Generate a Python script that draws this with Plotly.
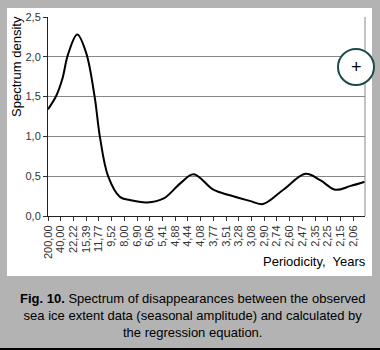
import plotly.graph_objects as go

# x positions are category indices (1 = "200,00", step 4 per labelled period)
pos = [1, 3.6, 5.5, 7.3, 10.2, 13, 15.7, 17.3, 19.9, 23.6, 26.7, 32.2, 37.4,
       42.6, 46.8, 53, 58.2, 64.4, 68.6, 75, 82, 86.6, 91.4, 96, 100.6]
density = [1.34, 1.51, 1.72, 2.03, 2.28, 2.05, 1.49, 1.0, 0.5, 0.24, 0.2, 0.17, 0.22,
           0.41, 0.525, 0.33, 0.26, 0.19, 0.15, 0.33, 0.53, 0.45, 0.33, 0.375, 0.43]

tick_pos = [1 + 4 * i for i in range(25)]
tick_labels = ["200,00", "40,00", "22,22", "15,39", "11,77", "9,52", "8,00", "6,90",
               "6,06", "5,41", "4,88", "4,44", "4,08", "3,77", "3,51", "3,28", "3,08",
               "2,90", "2,74", "2,60", "2,47", "2,35", "2,25", "2,15", "2,06"]

W, H = 380, 350
L, R, T, B = 48, 365, 17, 216
pw, ph = R - L, B - T


def px(x):
    return (x - L) / pw


def py(y):
    return (B - y) / ph


FONT = "Arial, Liberation Sans, sans-serif"

fig = go.Figure()
fig.add_trace(go.Scatter(x=pos, y=density, mode="lines",
                         line=dict(color="black", width=2, shape="spline", smoothing=1.0),
                         hoverinfo="skip", showlegend=False))

shapes = [
    # white panel
    dict(type="rect", xref="paper", yref="paper", x0=px(7), x1=px(372), y0=py(276), y1=py(8),
         fillcolor="white", line=dict(width=0), layer="below"),
    # right frame line
    dict(type="line", xref="paper", yref="paper", x0=1, x1=1, y0=0, y1=1,
         line=dict(color="#888888", width=1)),
    # bottom black rule
    dict(type="line", xref="paper", yref="paper", x0=px(0), x1=px(380), y0=py(349), y1=py(349),
         line=dict(color="black", width=2)),
    # circle button
    dict(type="circle", xref="paper", yref="paper", x0=px(338), x1=px(374), y0=py(85), y1=py(49),
         fillcolor="white", line=dict(color="#1d4b4b", width=2)),
]

annotations = [
    dict(text="+", xref="paper", yref="paper", x=px(356), y=py(67), showarrow=False,
         font=dict(size=18, color="black", family=FONT), xanchor="center", yanchor="middle"),
    dict(text="Spectrum density", xref="paper", yref="paper", x=px(16), y=py(67), showarrow=False,
         textangle=-90, font=dict(size=13, color="black", family=FONT),
         xanchor="center", yanchor="middle"),
    dict(text="Periodicity,  Years", xref="paper", yref="paper", x=px(368), y=py(261),
         showarrow=False, font=dict(size=13, color="black", family=FONT),
         xanchor="right", yanchor="middle"),
    dict(text="<b>Fig. 10.</b> Spectrum of disappearances between the observed<br>"
              "sea ice extent data (seasonal amplitude) and calculated by<br>"
              "the regression equation.",
         xref="paper", yref="paper", x=px(192), y=py(315), showarrow=False,
         font=dict(size=13, color="black", family=FONT), align="center",
         xanchor="center", yanchor="middle"),
]

fig.update_layout(
    width=W, height=H, autosize=False,
    margin=dict(l=L, r=W - R, t=T, b=H - B, pad=0),
    paper_bgcolor="#b3b3b3", plot_bgcolor="white",
    separators=", ",
    font=dict(family=FONT, size=11, color="#333333"),
    shapes=shapes, annotations=annotations, hovermode=False,
    xaxis=dict(range=[1, 100.7], tickmode="array", tickvals=tick_pos, ticktext=tick_labels,
               tickangle=-90, ticks="outside", ticklen=4, tickcolor="#333333",
               showline=True, linecolor="#222222", linewidth=1, showgrid=False,
               zeroline=False, tickfont=dict(size=11, color="#333333")),
    yaxis=dict(range=[0, 2.5], dtick=0.5, tickformat=".1f", ticks="outside", ticklen=4,
               tickcolor="#333333", showline=True, linecolor="#222222", linewidth=1,
               showgrid=True, gridcolor="#888888", gridwidth=1, zeroline=False,
               tickfont=dict(size=11, color="#333333")),
)

fig.write_html("out.html")
